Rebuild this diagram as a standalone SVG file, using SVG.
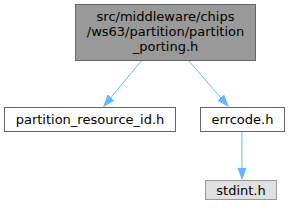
<svg xmlns="http://www.w3.org/2000/svg" width="288" height="212" viewBox="0 0 288 212">
<style>
text{font-family:"DejaVu Sans",sans-serif;font-size:13px;fill:#000;text-anchor:middle}
.n{fill:#fff;stroke:#666;stroke-width:1}
.e{stroke:#63b8ff;stroke-width:1;fill:none}
</style>
<defs>
<marker id="a" markerWidth="12" markerHeight="12" refX="11" refY="6" orient="auto" markerUnits="userSpaceOnUse">
<path d="M0,2 L11,6 L0,10 Z" fill="#63b8ff" stroke="#63b8ff"/>
</marker>
</defs>
<g id="edges">
<path class="e" d="M142,60 L104,106" marker-end="url(#a)"/>
<path class="e" d="M188,60 L228,106" marker-end="url(#a)"/>
<path class="e" d="M242,132 L242,179" marker-end="url(#a)"/>
</g>
<g id="node1">
<rect x="75.5" y="4.5" width="180" height="56" fill="#999" stroke="#666"/>
<text x="165.5" y="21">src/middleware/chips</text>
<text x="165.5" y="36">/ws63/partition/partition</text>
<text x="165.5" y="51">_porting.h</text>
</g>
<g id="node2">
<rect class="n" x="4.5" y="107.5" width="171" height="24"/>
<text x="90" y="124">partition_resource_id.h</text>
</g>
<g id="node3">
<rect class="n" x="200.5" y="107.5" width="84" height="24"/>
<text x="242.5" y="124">errcode.h</text>
</g>
<g id="node4">
<rect x="205.5" y="180.5" width="71" height="19" fill="#e0e0e0" stroke="#999"/>
<text x="241" y="194.5">stdint.h</text>
</g>
</svg>
